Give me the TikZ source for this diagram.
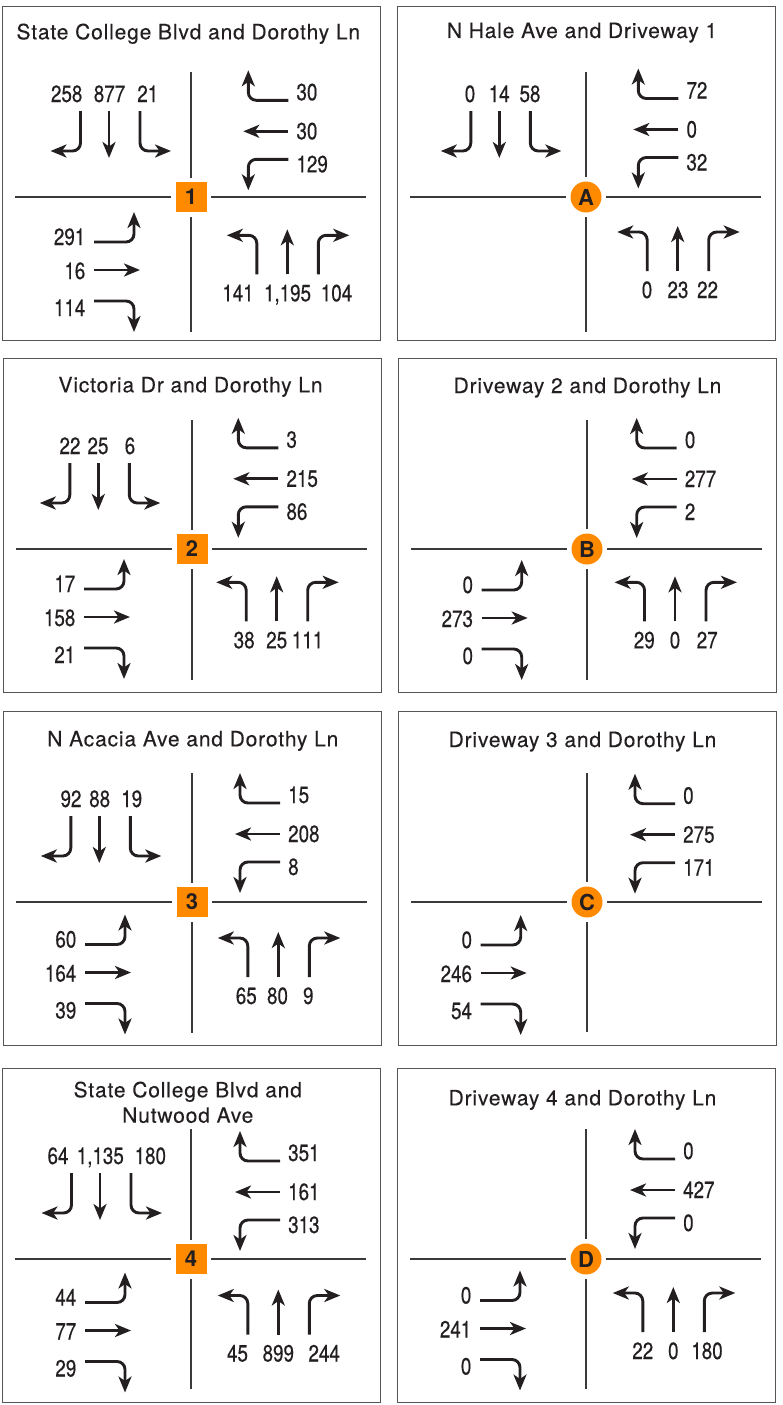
\documentclass[tikz,border=0pt]{standalone}
\usepackage{fontspec}
\usetikzlibrary{arrows.meta}
\newfontfamily\titlefont[LetterSpace=4,FakeBold=0.25]{TeX Gyre Heros}
\newfontfamily\numfont[FakeStretch=0.8,FakeBold=0.4]{TeX Gyre Heros}
\newfontfamily\badgefont{TeX Gyre Heros}
\definecolor{ink}{HTML}{231F20}
\definecolor{badge}{HTML}{FF8A00}
\definecolor{framegray}{HTML}{555555}
\definecolor{roadgray}{HTML}{3A3A3A}

\tikzset{
  mv/.style={draw=ink, line width=2.9pt, rounded corners=8pt,
    -{Stealth[length=16pt,width=13pt,inset=4.5pt]}},
  frm/.style={draw=framegray, line width=1.4pt},
  roadline/.style={draw=roadgray, line width=1.2pt},
  num/.style={font=\numfont\fontsize{23.5}{23.5}\selectfont, text=ink,
    inner sep=0pt, anchor=base},
  ttl/.style={font=\titlefont\fontsize{21}{25}\selectfont, text=ink,
    inner sep=0pt, anchor=base},
  sqbadge/.style={fill=badge, minimum width=31pt, minimum height=30pt,
    inner sep=0pt, text=ink, font=\badgefont\bfseries\fontsize{22}{22}\selectfont},
  cbadge/.style={circle, fill=badge, minimum size=31pt, inner sep=0pt,
    text=ink, font=\badgefont\bfseries\fontsize{22}{22}\selectfont},
}

% frame and the two crossing roads of one intersection; #1/#2 = ends of the vertical road
\newcommand\panelframe[2]{%
  \draw[frm] (-188.5,-190.5) rectangle (189.5,143.5);
  \draw[roadline] (-176,0) -- (175,0);
  \draw[roadline] (0,#1) -- (0,#2);
}
\newcommand\sqmark[1]{%
  \fill[white] (-20,-19.5) rectangle (20,19.5);
  \node[sqbadge] (\pid-badge) at (0,0) {#1};
}
\newcommand\cmark[1]{%
  \fill[white] (0,0) circle (20);
  \node[cbadge] (\pid-badge) at (0,0) {#1};
}
% southbound approach: #1 through-arrow x, #2-#4 volumes, #5-#7 label x
\newcommand\sbgroup[7]{%
  \draw[mv] (#1-28.5,-86) -- (#1-28.5,-46) -- (#1-58.5,-46);
  \draw[mv] (#1,-86) -- (#1,-39);
  \draw[mv] (#1+31,-86) -- (#1+31,-46) -- (#1+62,-46);
  \node[num] (\pid-sb1) at (#5,-95) {#2};
  \node[num] (\pid-sb2) at (#6,-95) {#3};
  \node[num] (\pid-sb3) at (#7,-95) {#4};
}
% westbound approach: #1 arrow start x, #2 vertical shift, #3-#5 volumes
\newcommand\wbgroup[5]{%
  \draw[mv] (#1,-99+#2) -- (#1-40,-99+#2) -- (#1-40,-129+#2);
  \draw[mv] (#1,-68+#2) -- (#1-45,-68+#2);
  \draw[mv] (#1,-40+#2) -- (#1-40,-40+#2) -- (#1-40,-9+#2);
  \node[num,anchor=base west] (\pid-wb1) at (#1+8,-99+#2) {#3};
  \node[num,anchor=base west] (\pid-wb2) at (#1+8,-60+#2) {#4};
  \node[num,anchor=base west] (\pid-wb3) at (#1+8,-27+#2) {#5};
}
% eastbound approach: #1 arrow start x, #2 vertical shift, #3-#5 volumes
\newcommand\ebgroup[5]{%
  \draw[mv] (#1,42+#2) -- (#1+40,42+#2) -- (#1+40,12+#2);
  \draw[mv] (#1,70+#2) -- (#1+46,70+#2);
  \draw[mv] (#1,101+#2) -- (#1+40,101+#2) -- (#1+40,132+#2);
  \node[num,anchor=base east] (\pid-eb1) at (#1-8.5,45+#2) {#3};
  \node[num,anchor=base east] (\pid-eb2) at (#1-8.5,79+#2) {#4};
  \node[num,anchor=base east] (\pid-eb3) at (#1-8.5,116+#2) {#5};
}
% northbound approach: #1 through-arrow x, #2 vertical shift, #3-#5 volumes, #6-#8 label x
\newcommand\nbgroup[8]{%
  \draw[mv] (#1-30.5,74+#2) -- (#1-30.5,35+#2) -- (#1-60.5,35+#2);
  \draw[mv] (#1,74+#2) -- (#1,29+#2);
  \draw[mv] (#1+31,74+#2) -- (#1+31,35+#2) -- (#1+62,35+#2);
  \node[num] (\pid-nb1) at (#6,101+#2) {#3};
  \node[num] (\pid-nb2) at (#7,101+#2) {#4};
  \node[num] (\pid-nb3) at (#8,101+#2) {#5};
}

\begin{document}
\begin{tikzpicture}[x=1pt,y=-1pt]
\useasboundingbox (0,0) rectangle (782,1405);

% ---- 1: State College Blvd and Dorothy Ln
\def\pid{p1}
\begin{scope}[shift={(191,197)}]
  \panelframe{-125}{135}
  \node[ttl] (\pid-title) at (-2.7,-157.7) {State College Blvd and Dorothy Ln};
  \sqmark{1}
  \sbgroup{-82}{258}{877}{21}{-124.3}{-81.5}{-43.2}
  \wbgroup{97.3}{2.3}{30}{30}{129}
  \ebgroup{-97}{3}{291}{16}{114}
  \nbgroup{96.3}{3.3}{141}{1,195}{104}{47}{96.5}{145.5}
\end{scope}

% ---- A: N Hale Ave and Driveway 1
\def\pid{pA}
\begin{scope}[shift={(586,197)}]
  \panelframe{-125}{135}
  \node[ttl] (\pid-title) at (-4,-159) {N Hale Ave and Driveway 1};
  \cmark{A}
  \sbgroup{-86.7}{0}{14}{58}{-116}{-86.8}{-56}
  \wbgroup{92.3}{0.5}{72}{0}{32}
  \nbgroup{91.7}{0}{0}{23}{22}{61}{92}{121.6}
\end{scope}

% ---- 2: Victoria Dr and Dorothy Ln
\def\pid{p2}
\begin{scope}[shift={(192,549)}]
  \panelframe{-129}{131}
  \node[ttl] (\pid-title) at (-1.5,-156.7) {Victoria Dr and Dorothy Ln};
  \sqmark{2}
  \sbgroup{-93.7}{22}{25}{6}{-122}{-94}{-62}
  \wbgroup{86.3}{-2.2}{3}{215}{86}
  \ebgroup{-108}{-2}{17}{158}{21}
  \nbgroup{84.7}{-1.7}{38}{25}{111}{52.2}{84.7}{115.5}
\end{scope}

% ---- B: Driveway 2 and Dorothy Ln
\def\pid{pB}
\begin{scope}[shift={(587,549)}]
  \panelframe{-129}{131}
  \node[ttl] (\pid-title) at (0.5,-156) {Driveway 2 and Dorothy Ln};
  \cmark{B}
  \wbgroup{89.7}{-2}{0}{277}{2}
  \ebgroup{-105.3}{-1}{0}{273}{0}
  \nbgroup{88}{-1.7}{29}{0}{27}{57.3}{88}{120.2}
\end{scope}

% ---- 3: N Acacia Ave and Dorothy Ln
\def\pid{p3}
\begin{scope}[shift={(192,902)}]
  \panelframe{-129}{131}
  \node[ttl] (\pid-title) at (0.8,-155.7) {N Acacia Ave and Dorothy Ln};
  \sqmark{3}
  \sbgroup{-92.7}{92}{88}{19}{-121}{-92.3}{-60.3}
  \wbgroup{88}{0}{15}{208}{8}
  \ebgroup{-107}{0.5}{60}{164}{39}
  \nbgroup{86.3}{1}{65}{80}{9}{54.3}{85.5}{116.3}
\end{scope}

% ---- C: Driveway 3 and Dorothy Ln
\def\pid{pC}
\begin{scope}[shift={(587,902)}]
  \panelframe{-129}{130}
  \node[ttl] (\pid-title) at (-4.5,-155) {Driveway 3 and Dorothy Ln};
  \cmark{C}
  \wbgroup{88}{0.7}{0}{275}{171}
  \ebgroup{-106.3}{1}{0}{246}{54}
\end{scope}

% ---- 4: State College Blvd and Nutwood Ave
\def\pid{p4}
\begin{scope}[shift={(191,1259)}]
  \panelframe{-130}{130}
  \node[ttl] (\pid-title) at (-3.2,-161.7) {State College Blvd and};
  \node[ttl] (\pid-title2) at (-3.2,-136.3) {Nutwood Ave};
  \sqmark{4}
  \sbgroup{-91}{64}{1,135}{180}{-133}{-90.7}{-40.7}
  \wbgroup{89}{1}{351}{161}{313}
  \ebgroup{-106}{1.5}{44}{77}{29}
  \nbgroup{87.3}{1.5}{45}{899}{244}{46.5}{87.3}{133.2}
\end{scope}

% ---- D: Driveway 4 and Dorothy Ln
\def\pid{pD}
\begin{scope}[shift={(586,1259)}]
  \panelframe{-130}{130}
  \node[ttl] (\pid-title) at (-3.5,-153.7) {Driveway 4 and Dorothy Ln};
  \cmark{D}
  \wbgroup{89}{-1}{0}{427}{0}
  \ebgroup{-106}{-0.5}{0}{241}{0}
  \nbgroup{87.3}{-1}{22}{0}{180}{56.8}{87.3}{121}
\end{scope}

\end{tikzpicture}
\end{document}
